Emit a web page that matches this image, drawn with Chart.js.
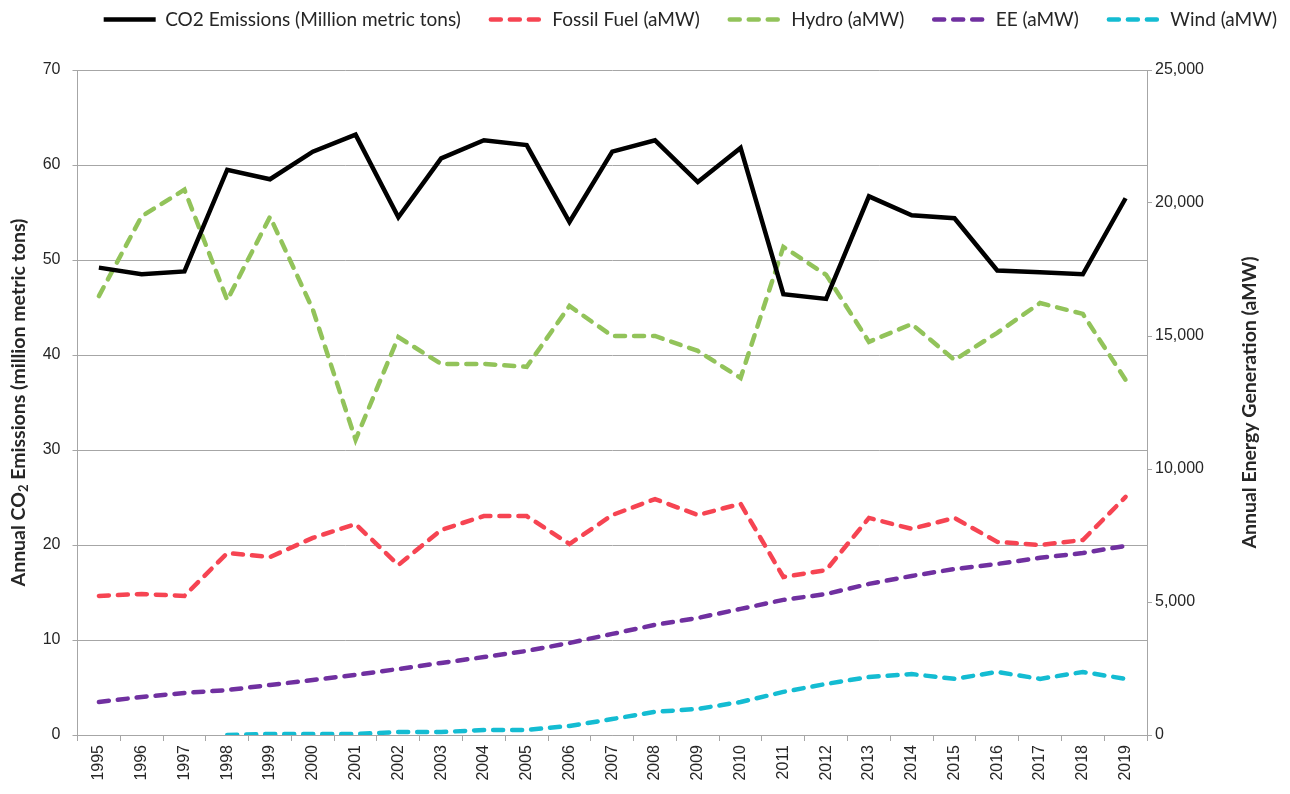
<!DOCTYPE html>
<html>
<head>
<meta charset="utf-8">
<script src="https://cdn.jsdelivr.net/npm/chart.js@4"></script>
<style>
  html, body { margin: 0; padding: 0; background: #fff; }
  #wrap { width: 1290px; height: 794px; }
</style>
</head>
<body>
<div id="wrap"><canvas id="myChart"></canvas></div>
<script>
// data
const years = ['1995', '1996', '1997', '1998', '1999', '2000', '2001', '2002', '2003', '2004', '2005', '2006', '2007',
  '2008', '2009', '2010', '2011', '2012', '2013', '2014', '2015', '2016', '2017', '2018', '2019'];
const co2 = [49.2, 48.5, 48.8, 59.5, 58.5, 61.4, 63.2, 54.5, 60.7, 62.6, 62.1, 54.0, 61.4,
  62.6, 58.2, 61.8, 46.4, 45.9, 56.7, 54.7, 54.4, 48.9, 48.7, 48.5, 56.5];
const fossil = [5230, 5300, 5230, 6840, 6690, 7410, 7930, 6390, 7710, 8230, 8230, 7180, 8270,
  8870, 8270, 8690, 5940, 6200, 8160, 7750, 8160, 7260, 7140, 7330, 8950];
const hydro = [16500, 19500, 20500, 16350, 19480, 16000, 11100, 14960, 13950, 13950, 13840, 16130, 15000,
  15000, 14440, 13420, 18350, 17300, 14780, 15450, 14100, 15120, 16240, 15830, 13350];
const ee = [1240, 1430, 1580, 1690, 1880, 2070, 2260, 2480, 2710, 2930, 3160, 3460, 3800,
  4140, 4400, 4740, 5080, 5300, 5680, 5980, 6240, 6430, 6660, 6840, 7110];
const wind = [null, null, null, 0, 40, 40, 40, 110, 110, 190, 190, 340, 600,
  870, 980, 1240, 1620, 1920, 2180, 2290, 2110, 2370, 2110, 2370, 2110];

const gridColor = '#a6a6a6';
const tickFont = { family: 'Liberation Sans, Arial', size: 16 };
const dash = [10, 9];

// legend gets 70px on top, then is nudged up/right after layout
const legendSpace = {
  id: 'legendSpace',
  beforeInit(chart) {
    const fit = chart.legend.fit;
    chart.legend.fit = function () {
      fit.bind(chart.legend)();
      this.height = 70;
    };
  },
  afterLayout(chart) {
    const lg = chart.legend;
    lg.top -= 20;
    lg.bottom -= 20;
    lg.left += 17;
    lg.right += 17;
  }
};

// axis titles, both read bottom to top
const axisTitles = {
  id: 'axisTitles',
  afterDraw(chart) {
    const c = chart.ctx;
    const area = chart.chartArea;
    const midY = (area.top + area.bottom) / 2;
    c.save();
    c.fillStyle = '#262626';
    c.textBaseline = 'middle';

    // left: Annual CO2 Emissions with subscript 2
    c.translate(19, midY);
    c.rotate(-Math.PI / 2);
    const big = 'bold 19.5px Lato';
    const small = 'bold 13px Lato';
    const p1 = 'Annual CO', p2 = '2', p3 = ' Emissions (million metric tons)';
    c.font = big; const w1 = c.measureText(p1).width; const w3 = c.measureText(p3).width;
    c.font = small; const w2 = c.measureText(p2).width;
    let x = -(w1 + w2 + w3) / 2;
    c.font = big; c.textAlign = 'left'; c.fillText(p1, x, 0); x += w1;
    c.font = small; c.fillText(p2, x, 5); x += w2;
    c.font = big; c.fillText(p3, x, 0);
    c.restore();

    c.save();
    c.fillStyle = '#262626';
    c.textBaseline = 'middle';
    c.textAlign = 'center';
    c.font = 'bold 19.5px Lato';
    c.translate(1250, midY);
    c.rotate(-Math.PI / 2);
    c.fillText('Annual Energy Generation (aMW)', 0, 0);
    c.restore();
  }
};

const ctx = document.getElementById('myChart');

new Chart(ctx, {
  type: 'line',
  data: {
    labels: years,
    datasets: [
      {
        label: 'CO2 Emissions (Million metric tons)',
        data: co2,
        yAxisID: 'y',
        borderColor: '#000000',
        backgroundColor: '#000000',
        borderWidth: 4.5,
      },
      {
        label: 'Fossil Fuel (aMW)',
        data: fossil,
        yAxisID: 'y2',
        borderColor: '#f64452',
        backgroundColor: '#f64452',
        borderWidth: 4.5,
        borderDash: dash,
        borderCapStyle: 'round',
      },
      {
        label: 'Hydro (aMW)',
        data: hydro,
        yAxisID: 'y2',
        borderColor: '#92c35a',
        backgroundColor: '#92c35a',
        borderWidth: 4.5,
        borderDash: dash,
        borderCapStyle: 'round',
      },
      {
        label: 'EE (aMW)',
        data: ee,
        yAxisID: 'y2',
        borderColor: '#7030a0',
        backgroundColor: '#7030a0',
        borderWidth: 4.5,
        borderDash: dash,
        borderCapStyle: 'round',
      },
      {
        label: 'Wind (aMW)',
        data: wind,
        yAxisID: 'y2',
        borderColor: '#14bcd2',
        backgroundColor: '#14bcd2',
        borderWidth: 4.5,
        borderDash: dash,
        borderCapStyle: 'round',
      },
    ],
  },
  options: {
    responsive: true,
    maintainAspectRatio: false,
    animation: false,
    layout: { padding: 0 },
    elements: {
      point: { radius: 0, hoverRadius: 0 },
      line: { tension: 0, borderJoinStyle: 'miter' },
    },
    plugins: {
      tooltip: { enabled: false },
      legend: {
        position: 'top',
        align: 'end',
        labels: {
          usePointStyle: true,
          pointStyle: 'line',
          pointStyleWidth: 52,
          boxHeight: 14,
          padding: 30,
          color: '#262626',
          font: { family: 'Lato', size: 19 },
          generateLabels(chart) {
            const items = Chart.defaults.plugins.legend.labels.generateLabels(chart);
            items.forEach((it) => {
              const ds = chart.data.datasets[it.datasetIndex];
              it.lineDash = ds.borderDash || [];
              it.lineCap = ds.borderCapStyle || 'butt';
              it.lineWidth = ds.borderWidth;
              it.strokeStyle = ds.borderColor;
            });
            return items;
          },
        },
      },
    },
    scales: {
      x: {
        offset: true,
        afterFit: (s) => { s.height = 59; },
        grid: { drawOnChartArea: false, offset: true, tickLength: 6, color: gridColor },
        border: { color: gridColor },
        ticks: { minRotation: 90, maxRotation: 90, padding: 4, color: '#262626', font: tickFont, autoSkip: false },
      },
      y: {
        position: 'left',
        min: 0,
        max: 70,
        afterFit: (s) => { s.width = 77.5; },
        grid: { color: gridColor, tickLength: 5 },
        border: { color: gridColor },
        ticks: { stepSize: 10, padding: 12, color: '#262626', font: tickFont },
      },
      y2: {
        position: 'right',
        min: 0,
        max: 25000,
        afterFit: (s) => { s.width = 143; },
        grid: { drawOnChartArea: false, tickLength: 5, color: gridColor },
        border: { color: gridColor },
        ticks: {
          stepSize: 5000,
          padding: 3,
          color: '#262626',
          font: tickFont,
          callback: function (value) {
            return value.toLocaleString('en-US');
          },
        },
      },
    },
  },
  plugins: [legendSpace, axisTitles],
});
</script>
</body>
</html>
